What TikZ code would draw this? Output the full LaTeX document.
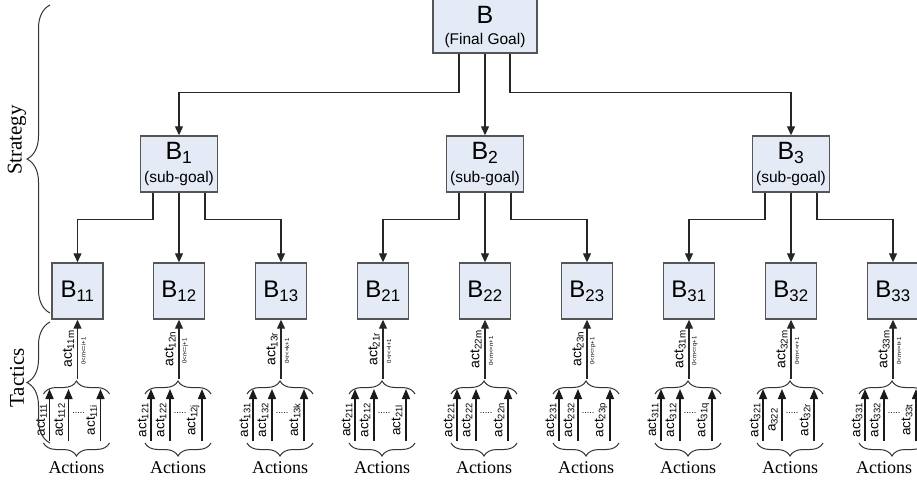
\documentclass[tikz,border=0pt]{standalone}
\usepackage{fontspec}
\setmainfont{Liberation Sans}
\newfontfamily\tnr{Liberation Serif}
\usetikzlibrary{arrows.meta,decorations.pathreplacing}
\definecolor{boxfill}{RGB}{228,234,246}
\definecolor{boxline}{RGB}{85,85,85}
\tikzset{
  goalbox/.style={draw=boxline, fill=boxfill, line width=1.4pt, inner sep=0pt, align=center},
  topbox/.style={goalbox, minimum width=104pt, minimum height=60pt},
  subbox/.style={goalbox, minimum width=77pt, minimum height=56pt},
  leafbox/.style={goalbox, minimum width=51pt, minimum height=56pt, font=\fontsize{24}{24}\selectfont},
  conn/.style={line width=1.2pt, draw=black!85, -{Triangle[width=8pt,length=9pt]}},
  actarrow/.style={line width=1.6pt, draw=black!90, -{Triangle[width=8pt,length=10pt]}},
  lbl/.style={rotate=90, font=\fontsize{13.5}{13.5}\selectfont, inner sep=0pt},
  mainlbl/.style={rotate=90, font=\fontsize{14}{14}\selectfont, inner sep=0pt},
  rulelbl/.style={rotate=90, font=\fontsize{6}{6}\selectfont, inner sep=0pt},
  brc/.style={decorate, decoration={brace, amplitude=#1}, line width=1pt, draw=black!80},
  sidelbl/.style={rotate=90, font=\tnr\fontsize{21}{21}\selectfont, inner sep=0pt},
  actslbl/.style={font=\tnr\fontsize{18}{18}\selectfont, inner sep=0pt},
  dotslbl/.style={font=\fontsize{9}{9}\selectfont, inner sep=0pt}
}
\begin{document}
\begin{tikzpicture}[x=1pt,y=-1pt]
\useasboundingbox (0,0) rectangle (917,483);

% top goal
\node[topbox, font=\fontsize{15.5}{16}\selectfont] (B) at (485,23)
  {\rule{0pt}{25.5pt}{\fontsize{25}{25}\selectfont B}\\[5pt](Final Goal)};

% sub-goals
\foreach \g/\x in {1/179,2/485,3/791}{
  \node[subbox, font=\fontsize{15.5}{16}\selectfont] (B\g) at (\x,164)
    {{\fontsize{25}{25}\selectfont B\textsubscript{\g}}\\[7pt](sub-goal)};
}

% leaves, tactics and actions
\foreach \n/\c/\p/\k/\m/\ax in {11/77.5/act/i/m/0, 12/179/act/j/n/0, 13/281/act/k/r/0,
                            21/383/act/l/r/0, 22/485/act/n/m/0, 23/587/act/p/n/0,
                            31/689/act/q/m/0, 32/791/a/r/m/0, 33/893/act/t/m/-8}{
  \node[leafbox] (L\n) at (\c,291) {B\textsubscript{\n}};
  \coordinate (T\n) at (\c,379);
  \draw[conn] (T\n) -- (L\n.south);
  \node[mainlbl] (M\n) at (\c-9,349) {act\textsubscript{\n\m}};
  \node[rulelbl] (R\n) at (\c+6,351) {0<\m<=\k+1};
  \draw[brc=13] (\c-34,394) -- (\c+32,394);
  % action arrows
  \coordinate (S\n-1) at (\c-28,441); \coordinate (E\n-1) at (\c-28,389);
  \coordinate (S\n-2) at (\c-9,441);  \coordinate (E\n-2) at (\c-9,389);
  \coordinate (S\n-3) at (\c+23,441); \coordinate (E\n-3) at (\c+23,389);
  \draw[actarrow] (S\n-1) -- (E\n-1);
  \draw[actarrow] (S\n-2) -- (E\n-2);
  \draw[actarrow] (S\n-3) -- (E\n-3);
  \node[lbl] (a\n-1) at (\c-36,420) {act\textsubscript{\n1}};
  \node[lbl] (a\n-2) at (\c-18,420) {\p\textsubscript{\n2}};
  \node[lbl] (a\n-3) at (\c+14,420) {act\textsubscript{\n\k}};
  \node[dotslbl] (d\n) at (\c+1,413) {.....};
  \draw[brc=13] (\c+32,443) -- (\c-34,443);
  \node[actslbl] (A\n) at (\c-1+\ax,468) {Actions};
}

% connectors from final goal
\draw[conn] ([xshift=-26pt]B.south) -- ++(0,39) -| (B1.north);
\draw[conn] (B.south) -- (B2.north);
\draw[conn] ([xshift=25pt]B.south) -- ++(0,39) -| (B3.north);

% connectors from sub-goals
\foreach \g/\x/\y/\z in {1/11/12/13, 2/21/22/23, 3/31/32/33}{
  \draw[conn] ([xshift=-26pt]B\g.south) -- ++(0,27) -| (L\x.north);
  \draw[conn] (B\g.south) -- (L\y.north);
  \draw[conn] ([xshift=26pt]B\g.south) -- ++(0,27) -| (L\z.north);
}

% side braces
\draw[brc=23] (50,313) -- (50,5);
\node[sidelbl] (strat) at (17,140) {Strategy};
\draw[brc=23] (50,443) -- (50,322);
\node[sidelbl] (tact) at (17,378) {Tactics};
\end{tikzpicture}
\end{document}
